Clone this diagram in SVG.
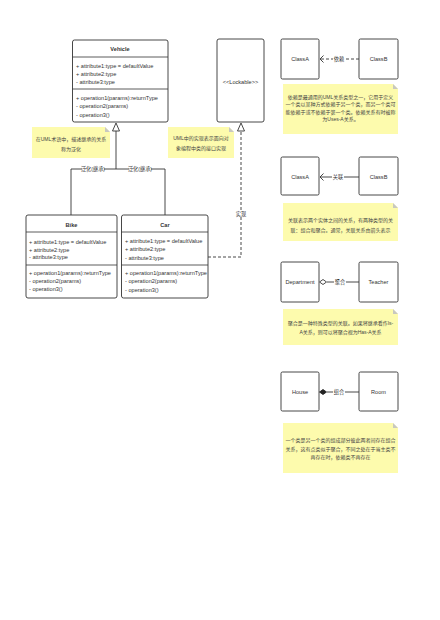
<svg xmlns="http://www.w3.org/2000/svg" width="440" height="620" viewBox="0 0 440 620">
<defs>
<style>
.box{fill:#fff;stroke:#333;stroke-width:0.9}
.sep{stroke:#333;stroke-width:0.8}
.t{font-family:"Liberation Sans","Noto Sans CJK SC",sans-serif;font-size:5.6px;fill:#333}
.b{font-weight:bold;text-anchor:middle}
.c{text-anchor:middle}
.n{font-family:"Liberation Sans","Noto Sans CJK SC",sans-serif;font-size:5px;fill:#444;text-anchor:middle}
.note{fill:#fdfbad;stroke:none}
.fold{fill:#c8c8c0}
.ln{fill:none;stroke:#333;stroke-width:0.9}
.dash{fill:none;stroke:#333;stroke-width:0.9;stroke-dasharray:3,2}
.lbl{font-family:"Liberation Sans","Noto Sans CJK SC",sans-serif;font-size:5.2px;fill:#333;text-anchor:middle}
.lb{fill:#fff}
</style>
</defs>
<rect width="440" height="620" fill="#fff"/>

<g id="vehicle">
<rect class="box" x="72.5" y="40" width="95.5" height="82" rx="2"/>
<line class="sep" x1="72.5" y1="57" x2="168" y2="57"/>
<line class="sep" x1="72.5" y1="89" x2="168" y2="89"/>
<text class="t b" x="120" y="51">Vehicle</text>
<text class="t" x="76" y="67.8">+ attribute1:type = defaultValue</text>
<text class="t" x="76" y="76">+ attribute2:type</text>
<text class="t" x="76" y="84.3">- attribute3:type</text>
<text class="t" x="76" y="99.5">+ operation1(params):returnType</text>
<text class="t" x="76" y="108">- operation2(params)</text>
<text class="t" x="76" y="117">- operation3()</text>
</g>

<g id="bike">
<rect class="box" x="26" y="215" width="91" height="83" rx="2"/>
<line class="sep" x1="26" y1="232" x2="117" y2="232"/>
<line class="sep" x1="26" y1="265" x2="117" y2="265"/>
<text class="t b" x="71.5" y="227">Bike</text>
<text class="t" x="29" y="244">+ attribute1:type = defaultValue</text>
<text class="t" x="29" y="251.5">+ attribute2:type</text>
<text class="t" x="29" y="259">- attribute3:type</text>
<text class="t" x="29" y="275">+ operation1(params):returnType</text>
<text class="t" x="29" y="283">- operation2(params)</text>
<text class="t" x="29" y="290.5">- operation3()</text>
</g>

<g id="car">
<rect class="box" x="121.5" y="215" width="86.5" height="83" rx="2"/>
<line class="sep" x1="121.5" y1="232" x2="208" y2="232"/>
<line class="sep" x1="121.5" y1="265" x2="208" y2="265"/>
<text class="t b" x="165" y="227">Car</text>
<text class="t" x="125" y="243">+ attribute1:type = defaultValue</text>
<text class="t" x="125" y="251">+ attribute2:type</text>
<text class="t" x="125" y="259.5">- attribute3:type</text>
<text class="t" x="125" y="275">+ operation1(params):returnType</text>
<text class="t" x="125" y="283">- operation2(params)</text>
<text class="t" x="125" y="292">- operation3()</text>
</g>

<g id="lockable">
<rect class="box" x="217" y="39" width="47" height="83" rx="2"/>
<text class="t c" x="240.5" y="84">&lt;&lt;Lockable&gt;&gt;</text>
</g>

<g id="note-generalization">
<path class="note" d="M32,127 H105 L110,132 V158 H32 Z"/>
<path class="fold" d="M105,127 L110,132 H105 Z"/>
<text class="n" x="71" y="141">在UML术语中，描述继承的关系</text>
<text class="n" x="71" y="151">称为泛化</text>
</g>

<g id="note-realization">
<path class="note" d="M168,127 H229 L234,132 V158 H168 Z"/>
<path class="fold" d="M229,127 L234,132 H229 Z"/>
<text class="n" x="201" y="140">UML中的实现表示面向对</text>
<text class="n" x="201" y="149.5">象编程中类的接口实现</text>
</g>

<g id="dep-classA">
<rect class="box" x="281" y="39" width="38" height="40" rx="1.5"/>
<text class="t c" x="300" y="61">ClassA</text>
</g>
<g id="dep-classB">
<rect class="box" x="359" y="39" width="39" height="40" rx="1.5"/>
<text class="t c" x="378.5" y="61">ClassB</text>
</g>
<g id="note-dependency">
<path class="note" d="M283,84 H393 L398,89 V134 H283 Z"/>
<path class="fold" d="M393,84 L398,89 H393 Z"/>
<text class="n" x="340.5" y="98.5">依赖是最通用的UML关系类型之一，它用于定义</text>
<text class="n" x="340.5" y="106">一个类以某种方式依赖于另一个类，而另一个类可</text>
<text class="n" x="340.5" y="113.5">能依赖于或不依赖于第一个类。依赖关系有时被称</text>
<text class="n" x="340.5" y="121">为Uses-A关系。</text>
</g>

<g id="assoc-classA">
<rect class="box" x="281" y="157" width="38" height="38" rx="1.5"/>
<text class="t c" x="300" y="179">ClassA</text>
</g>
<g id="assoc-classB">
<rect class="box" x="359" y="157" width="39" height="38" rx="1.5"/>
<text class="t c" x="378.5" y="179">ClassB</text>
</g>
<g id="note-association">
<path class="note" d="M283,203 H393 L398,208 V241 H283 Z"/>
<path class="fold" d="M393,203 L398,208 H393 Z"/>
<text class="n" x="340.5" y="222">关联表示两个实体之间的关系，有两种类型的关</text>
<text class="n" x="340.5" y="231.5">联：组合和聚合。通常，关联关系由箭头表示</text>
</g>

<g id="department">
<rect class="box" x="281" y="262" width="38" height="40" rx="1.5"/>
<text class="t c" x="300" y="284">Department</text>
</g>
<g id="teacher">
<rect class="box" x="359" y="262" width="39" height="40" rx="1.5"/>
<text class="t c" x="378.5" y="284">Teacher</text>
</g>
<g id="note-aggregation">
<path class="note" d="M283,309 H393 L398,314 V345 H283 Z"/>
<path class="fold" d="M393,309 L398,314 H393 Z"/>
<text class="n" x="340.5" y="325">聚合是一种特殊类型的关联。如果将继承看作Is-</text>
<text class="n" x="340.5" y="334">A关系，则可以将聚合视为Has-A关系</text>
</g>

<g id="house">
<rect class="box" x="281" y="372" width="38" height="39" rx="1.5"/>
<text class="t c" x="300" y="394">House</text>
</g>
<g id="room">
<rect class="box" x="359" y="372" width="39" height="39" rx="1.5"/>
<text class="t c" x="378.5" y="394">Room</text>
</g>
<g id="note-composition">
<path class="note" d="M283,423 H393 L398,428 V473 H283 Z"/>
<path class="fold" d="M393,423 L398,428 H393 Z"/>
<text class="n" x="340.5" y="442">一个类是另一个类的组成部分彼此两者间存在组合</text>
<text class="n" x="340.5" y="450.5">关系，这有点类似于聚合，不同之处在于当主类不</text>
<text class="n" x="340.5" y="459">再存在时，依赖类不再存在</text>
</g>

<g id="connectors">
<!-- generalization -->
<path class="ln" d="M71,215 V169 H165 V215"/>
<path class="ln" d="M116,169 V131"/>
<polygon points="116,123 112.5,131 119.5,131" fill="#fff" stroke="#333" stroke-width="0.9"/>
<rect class="lb" x="82" y="165.5" width="22" height="7"/>
<text class="lbl" x="93" y="171">泛化(继承)</text>
<rect class="lb" x="129" y="165.5" width="22" height="7"/>
<text class="lbl" x="140" y="171">泛化(继承)</text>
<!-- realization -->
<path class="dash" d="M208,257 H241 V131"/>
<polygon points="241,123 237.5,131 244.5,131" fill="#fff" stroke="#333" stroke-width="0.9"/>
<rect class="lb" x="235" y="210" width="12" height="7"/>
<text class="lbl" x="241" y="216">实现</text>
<!-- dependency -->
<path class="dash" d="M359,59 H320"/>
<path class="ln" d="M323.5,55.5 L320,59 L323.5,62.5"/>
<rect class="lb" x="333" y="55.5" width="12" height="7"/>
<text class="lbl" x="339" y="61">依赖</text>
<!-- association -->
<path class="ln" d="M359,177 H320"/>
<path class="ln" d="M323.5,173.5 L320,177 L323.5,180.5"/>
<rect class="lb" x="332" y="173.5" width="12" height="7"/>
<text class="lbl" x="338" y="179">关联</text>
<!-- aggregation -->
<path class="ln" d="M359,282 H327"/>
<polygon points="319.5,282 323,279.5 326.5,282 323,284.5" fill="#fff" stroke="#333" stroke-width="0.9"/>
<rect class="lb" x="334" y="278.5" width="12" height="7"/>
<text class="lbl" x="340" y="284">聚合</text>
<!-- composition -->
<path class="ln" d="M359,392 H327"/>
<polygon points="319.5,392 323,389.5 326.5,392 323,394.5" fill="#222" stroke="#222" stroke-width="0.9"/>
<rect class="lb" x="333" y="388.5" width="12" height="7"/>
<text class="lbl" x="339" y="394">组合</text>
</g>
</svg>
